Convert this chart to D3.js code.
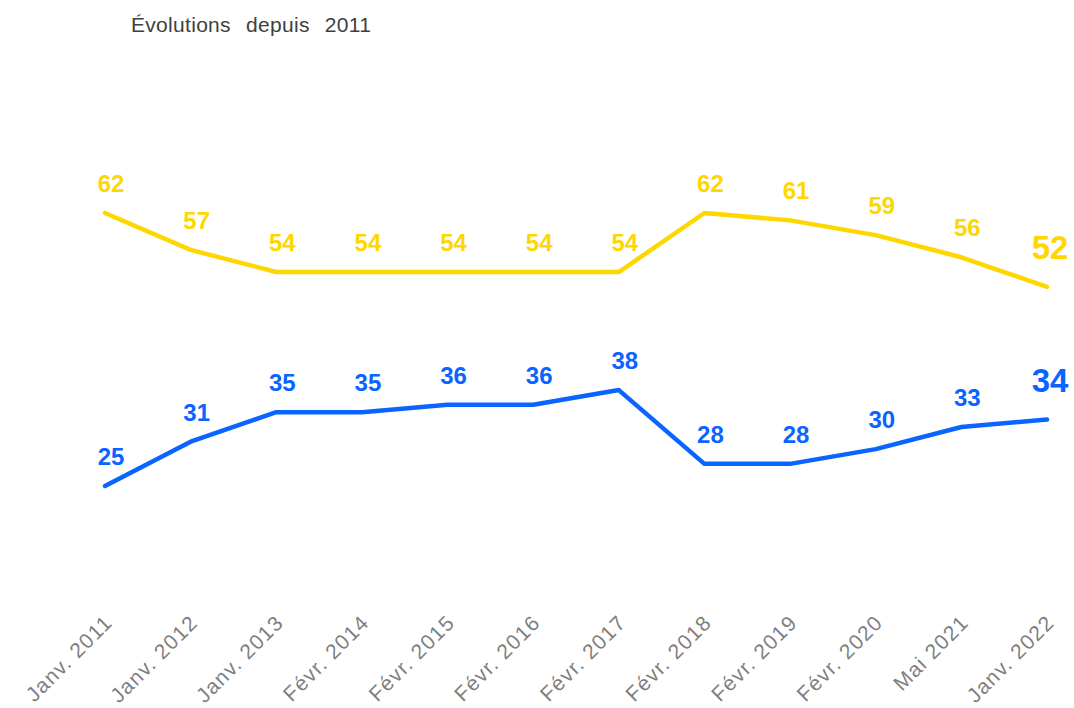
<!DOCTYPE html>
<html>
<head>
<meta charset="utf-8">
<script src="https://cdn.jsdelivr.net/npm/d3@7"></script>
<style>
  body { margin: 0; background: #fff; }
  svg { font-family: "Liberation Sans", Arial, sans-serif; }
</style>
</head>
<body>
<div id="chart"></div>
<script>
var dates = ['Janv. 2011', 'Janv. 2012', 'Janv. 2013', 'Févr. 2014', 'Févr. 2015', 'Févr. 2016',
             'Févr. 2017', 'Févr. 2018', 'Févr. 2019', 'Févr. 2020', 'Mai 2021', 'Janv. 2022'];
var yellowValues = [62, 57, 54, 54, 54, 54, 54, 62, 61, 59, 56, 52];
var blueValues = [25, 31, 35, 35, 36, 36, 38, 28, 28, 30, 33, 34];

var width = 1074;
var height = 708;

var svg = d3.select('#chart').append('svg')
        .attr('width', width)
        .attr('height', height);

svg.append('text')
        .attr('x', 131)
        .attr('y', 32)
        .attr('fill', '#404040')
        .style('font-size', '21px')
        .attr('word-spacing', '9')
        .attr('letter-spacing', '0.3')
        .text('Évolutions depuis 2011');

var x = d3.scalePoint().domain(dates).range([105, 1047]);
var y = d3.scaleLinear().domain([25, 62]).range([486, 213]);

// x axis labels only, no line
var axis = svg.append('g')
        .attr('transform', 'translate(0,612)')
        .call(d3.axisBottom(x).tickSize(0).tickPadding(0));
axis.select('.domain').remove();
axis.selectAll('text')
        .attr('fill', '#7f7f7f')
        .style('font-size', '21px')
        .style('letter-spacing', '1.2px')
        .style('font-family', '"Liberation Sans", Arial, sans-serif')
        .attr('text-anchor', 'end')
        .attr('dy', 0)
        .attr('transform', 'translate(8,12) rotate(-45)');

var series = [
    {values: yellowValues, color: '#FFD700'},
    {values: blueValues, color: '#0A64FF'}
];

var line = d3.line()
        .x(function (d, i) { return x(dates[i]); })
        .y(function (d) { return y(d); });

series.forEach(function (s) {
    svg.append('path')
            .datum(s.values)
            .attr('d', line)
            .attr('fill', 'none')
            .attr('stroke', s.color)
            .attr('stroke-width', 4.5)
            .attr('stroke-linecap', 'round')
            .attr('stroke-linejoin', 'round');

    svg.selectAll(null)
            .data(s.values)
            .enter()
            .append('text')
            .attr('x', function (d, i) { return x(dates[i]) + (i === dates.length - 1 ? 3 : 6); })
            .attr('y', function (d, i) { return y(d) - (i === dates.length - 1 ? 28 : 21); })
            .attr('text-anchor', 'middle')
            .attr('fill', s.color)
            .style('font-weight', 'bold')
            .style('font-size', function (d, i) { return i === dates.length - 1 ? '33px' : '24px'; })
            .text(function (d) { return d; });
});
</script>
</body>
</html>
